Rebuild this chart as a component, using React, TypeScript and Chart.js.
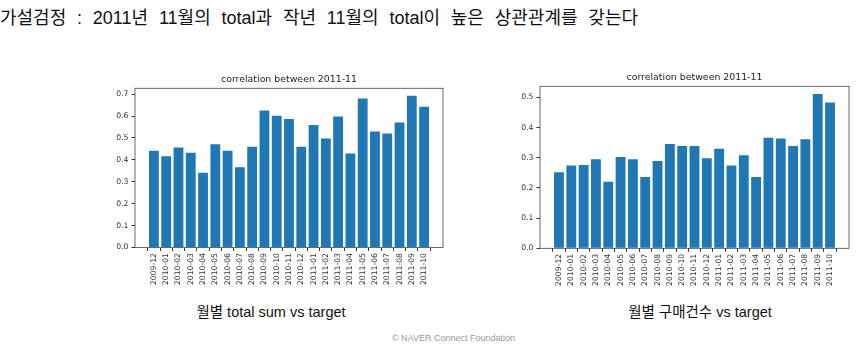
import React, { useEffect, useRef } from "react";
import { Chart, registerables } from "chart.js";

Chart.register(...registerables);

const months: string[] = [
  "2009-12",
  "2010-01", "2010-02", "2010-03", "2010-04", "2010-05", "2010-06",
  "2010-07", "2010-08", "2010-09", "2010-10", "2010-11", "2010-12",
  "2011-01", "2011-02", "2011-03", "2011-04", "2011-05", "2011-06",
  "2011-07", "2011-08", "2011-09", "2011-10",
];

const totalSumCorr: number[] = [
  0.442, 0.416, 0.456, 0.432, 0.341, 0.471, 0.442, 0.366, 0.46, 0.625, 0.601, 0.586,
  0.46, 0.559, 0.497, 0.598, 0.429, 0.68, 0.529, 0.52, 0.57, 0.692, 0.642,
];

const purchaseCountCorr: number[] = [
  0.252, 0.274, 0.276, 0.295, 0.22, 0.302, 0.295, 0.236, 0.289, 0.345, 0.339, 0.339,
  0.298, 0.33, 0.274, 0.308, 0.236, 0.366, 0.364, 0.339, 0.361, 0.511, 0.483,
];

const leftTicks: number[] = [0, 0.1, 0.2, 0.3, 0.4, 0.5, 0.6, 0.7];
const rightTicks: number[] = [0, 0.1, 0.2, 0.3, 0.4, 0.5];

const chartTitle = "correlation between 2011-11";
const heading = "가설검정 : 2011년 11월의 total과 작년 11월의 total이 높은 상관관계를 갖는다";
const leftCaption = "월별 total sum vs target";
const rightCaption = "월별 구매건수 vs target";
const footer = "©  NAVER Connect Foundation";

const BAR_COLOR = "#1f77b4";
const TICK_FONT = { family: "'DejaVu Sans', sans-serif", size: 7.7 };

const framePlugin = {
  id: "frame",
  afterDraw(chart: any) {
    const { ctx, chartArea } = chart;
    const { left, top, right, bottom } = chartArea;
    ctx.save();
    ctx.strokeStyle = "#444";
    ctx.lineWidth = 0.8;
    ctx.strokeRect(left, top, right - left, bottom - top);
    ctx.restore();
  },
};

function makeConfig(values: number[], yTicks: number[], xAxisHeight: number): any {
  const n = values.length;
  const yMax = Math.max(...values) * 1.05;
  const margin = (n - 1 + 0.8) * 0.05;
  return {
    type: "bar",
    data: {
      datasets: [
        {
          data: values.map((v, i) => ({ x: i, y: v })),
          backgroundColor: BAR_COLOR,
          borderWidth: 0,
          barPercentage: 0.8,
          categoryPercentage: 1,
        },
      ],
    },
    options: {
      responsive: false,
      animation: false,
      devicePixelRatio: 1,
      layout: { padding: { left: 0, right: 7, top: 0, bottom: 0 } },
      plugins: {
        legend: { display: false },
        tooltip: { enabled: false },
        title: {
          display: true,
          text: chartTitle,
          fullSize: false,
          color: "#222",
          font: { family: "'DejaVu Sans', sans-serif", size: 9.4, weight: "normal", lineHeight: 1.2 },
          padding: { top: 4, bottom: 3 },
        },
      },
      scales: {
        x: {
          type: "linear",
          min: -0.4 - margin,
          max: n - 1 + 0.4 + margin,
          offset: false,
          border: { display: false },
          grid: { drawOnChartArea: false, drawTicks: true, tickLength: 3.5, color: "#333" },
          afterBuildTicks: (scale: any) => {
            scale.ticks = months.map((_, i) => ({ value: i }));
          },
          afterFit: (scale: any) => {
            scale.height = xAxisHeight;
          },
          ticks: {
            autoSkip: false,
            minRotation: 90,
            maxRotation: 90,
            padding: 2,
            color: "#333",
            font: TICK_FONT,
            callback: (value: number) => months[Math.round(value)] ?? "",
          },
        },
        y: {
          type: "linear",
          min: 0,
          max: yMax,
          border: { display: false },
          grid: { drawOnChartArea: false, drawTicks: true, tickLength: 3.5, color: "#333" },
          afterBuildTicks: (scale: any) => {
            scale.ticks = yTicks.map((v) => ({ value: v }));
          },
          afterFit: (scale: any) => {
            scale.width = 35;
          },
          ticks: {
            padding: 3,
            color: "#333",
            font: TICK_FONT,
            callback: (value: number) => Number(value).toFixed(1),
          },
        },
      },
    },
    plugins: [framePlugin],
  };
}

function BarChart(props: {
  values: number[];
  yTicks: number[];
  left: number;
  top: number;
  width: number;
  height: number;
  xAxisHeight: number;
}) {
  const ref = useRef<HTMLCanvasElement | null>(null);
  useEffect(() => {
    if (!ref.current) return;
    const chart = new Chart(ref.current, makeConfig(props.values, props.yTicks, props.xAxisHeight));
    return () => chart.destroy();
  }, []);
  return (
    <canvas
      ref={ref}
      width={props.width}
      height={props.height}
      style={{
        position: "absolute",
        left: props.left,
        top: props.top,
        width: props.width,
        height: props.height,
      }}
    />
  );
}

export default function App() {
  const captionStyle: React.CSSProperties = {
    position: "absolute",
    top: 303,
    width: 240,
    textAlign: "center",
    fontFamily: "'Liberation Sans', 'Noto Sans CJK KR', sans-serif",
    fontSize: 14.5,
    lineHeight: "18px",
    color: "#111",
    whiteSpace: "nowrap",
  };
  return (
    <div
      style={{
        position: "absolute",
        left: 0,
        top: 0,
        width: 856,
        height: 351,
        background: "#fff",
        overflow: "hidden",
      }}
    >
      <div
        style={{
          position: "absolute",
          left: 0,
          top: 8,
          fontFamily: "'Liberation Sans', 'Noto Sans CJK KR', sans-serif",
          fontSize: 18,
          lineHeight: "20px",
          wordSpacing: 5.8,
          color: "#111",
          whiteSpace: "nowrap",
        }}
      >
        {heading}
      </div>
      <BarChart values={totalSumCorr} yTicks={leftTicks} left={100} top={70} width={350} height={220} xAxisHeight={42.5} />
      <BarChart values={purchaseCountCorr} yTicks={rightTicks} left={505} top={68} width={351} height={222} xAxisHeight={41.7} />
      <div style={{ ...captionStyle, left: 271 - 120 }}>{leftCaption}</div>
      <div style={{ ...captionStyle, left: 700 - 120 }}>{rightCaption}</div>
      <div
        style={{
          position: "absolute",
          left: 0,
          width: 907,
          top: 332,
          textAlign: "center",
          fontFamily: "'Liberation Sans', sans-serif",
          fontSize: 9,
          lineHeight: "12px",
          color: "#999",
          whiteSpace: "nowrap",
        }}
      >
        {footer}
      </div>
    </div>
  );
}
